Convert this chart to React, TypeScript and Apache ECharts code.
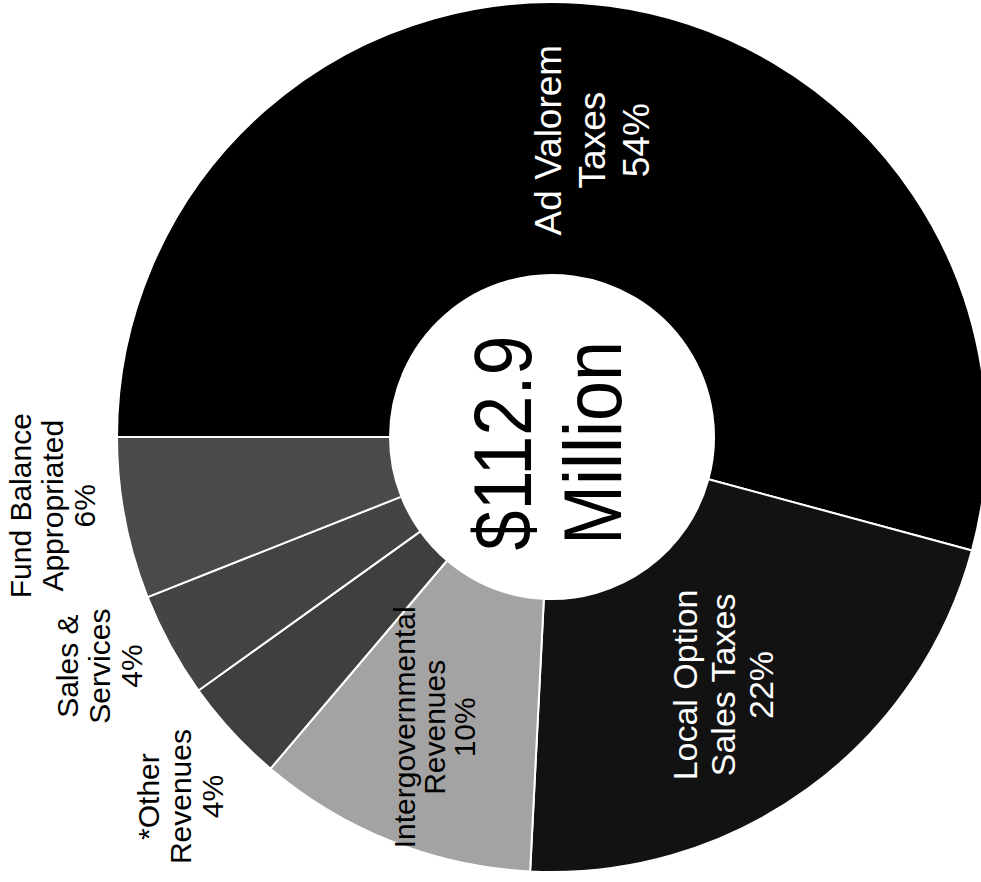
import React, { useEffect, useRef } from "react";
import * as echarts from "echarts";

// Revenue categories (clockwise from 9 o'clock)
const categories = [
  "Ad Valorem\nTaxes",
  "Local Option\nSales Taxes",
  "Intergovernmental\nRevenues",
  "*Other\nRevenues",
  "Sales &\nServices",
  "Fund Balance\nAppropriated",
];
// Share of total revenue (percent)
const shares = [54.2, 21.6, 10.4, 3.9, 3.9, 6.0];
const totalLabel = "$112.9\nMillion";

// styles
const sliceColors = ["#000000", "#121212", "#a3a3a3", "#3f3f3f", "#444444", "#4a4a4a"];
const insideLabel = [
  { show: true, color: "#ffffff", fontSize: 37, lineHeight: 44 },
  { show: true, color: "#ffffff", fontSize: 34, lineHeight: 38 },
  { show: true, color: "#000000", fontSize: 30, lineHeight: 30 },
  { show: false },
  { show: false },
  { show: false },
];
const outsideLabel = [
  { show: false },
  { show: false },
  { show: false },
  { show: true },
  { show: true },
  { show: true },
];
// screen-space label nudges [x, y]
const labelNudge = [
  [1, 2],
  [-6, 4],
  [-7, 10],
  [0, 17],
  [-9, -13],
  [-3, -26],
];

const FONT = "'Liberation Sans', Arial, Helvetica, sans-serif";

export default function App() {
  const ref = useRef<HTMLDivElement>(null);
  useEffect(() => {
    if (!ref.current) return;
    const chart = echarts.init(ref.current, undefined, { renderer: "svg" });
    const fmt = (p: any) => `${p.name}\n${Math.round(p.percent)}%`;
    // labels are rotated 90° CCW: local dx runs along screen -y, local dy along screen +x
    const nudge = (params: any) => ({
      dx: -labelNudge[params.dataIndex][1],
      dy: labelNudge[params.dataIndex][0],
    });
    chart.setOption({
      animation: false,
      backgroundColor: "#ffffff",
      textStyle: { fontFamily: FONT },
      series: [
        {
          type: "pie",
          center: [552, 437],
          radius: [162, 435],
          startAngle: 180,
          clockwise: true,
          avoidLabelOverlap: false,
          silent: true,
          itemStyle: { borderColor: "#ffffff", borderWidth: 2 },
          label: {
            position: "inside",
            rotate: 90,
            formatter: fmt,
            fontFamily: FONT,
            align: "center",
          },
          labelLine: { show: false },
          labelLayout: nudge,
          data: categories.map((name, i) => ({
            name,
            value: shares[i],
            itemStyle: { color: sliceColors[i] },
            label: insideLabel[i],
          })),
        },
        {
          type: "pie",
          center: [552, 437],
          radius: [435, 570],
          startAngle: 180,
          clockwise: true,
          avoidLabelOverlap: false,
          silent: true,
          itemStyle: { color: "rgba(0,0,0,0)", borderWidth: 0 },
          label: {
            position: "inside",
            rotate: 90,
            formatter: fmt,
            fontFamily: FONT,
            color: "#000000",
            fontSize: 30,
            lineHeight: 32,
            align: "center",
          },
          labelLine: { show: false },
          labelLayout: nudge,
          data: categories.map((name, i) => ({
            name,
            value: shares[i],
            label: outsideLabel[i],
          })),
        },
      ],
      graphic: [
        {
          type: "text",
          x: 548,
          y: 443,
          rotation: Math.PI / 2,
          scaleX: 1,
          scaleY: 1.12,
          silent: true,
          style: {
            text: totalLabel,
            fontSize: 72,
            fontFamily: FONT,
            fill: "#000000",
            align: "center",
            verticalAlign: "middle",
            lineHeight: 81,
          },
        },
      ],
    });
    return () => chart.dispose();
  }, []);
  return (
    <div
      ref={ref}
      style={{ position: "absolute", left: 0, top: 0, width: 981, height: 882 }}
    />
  );
}
